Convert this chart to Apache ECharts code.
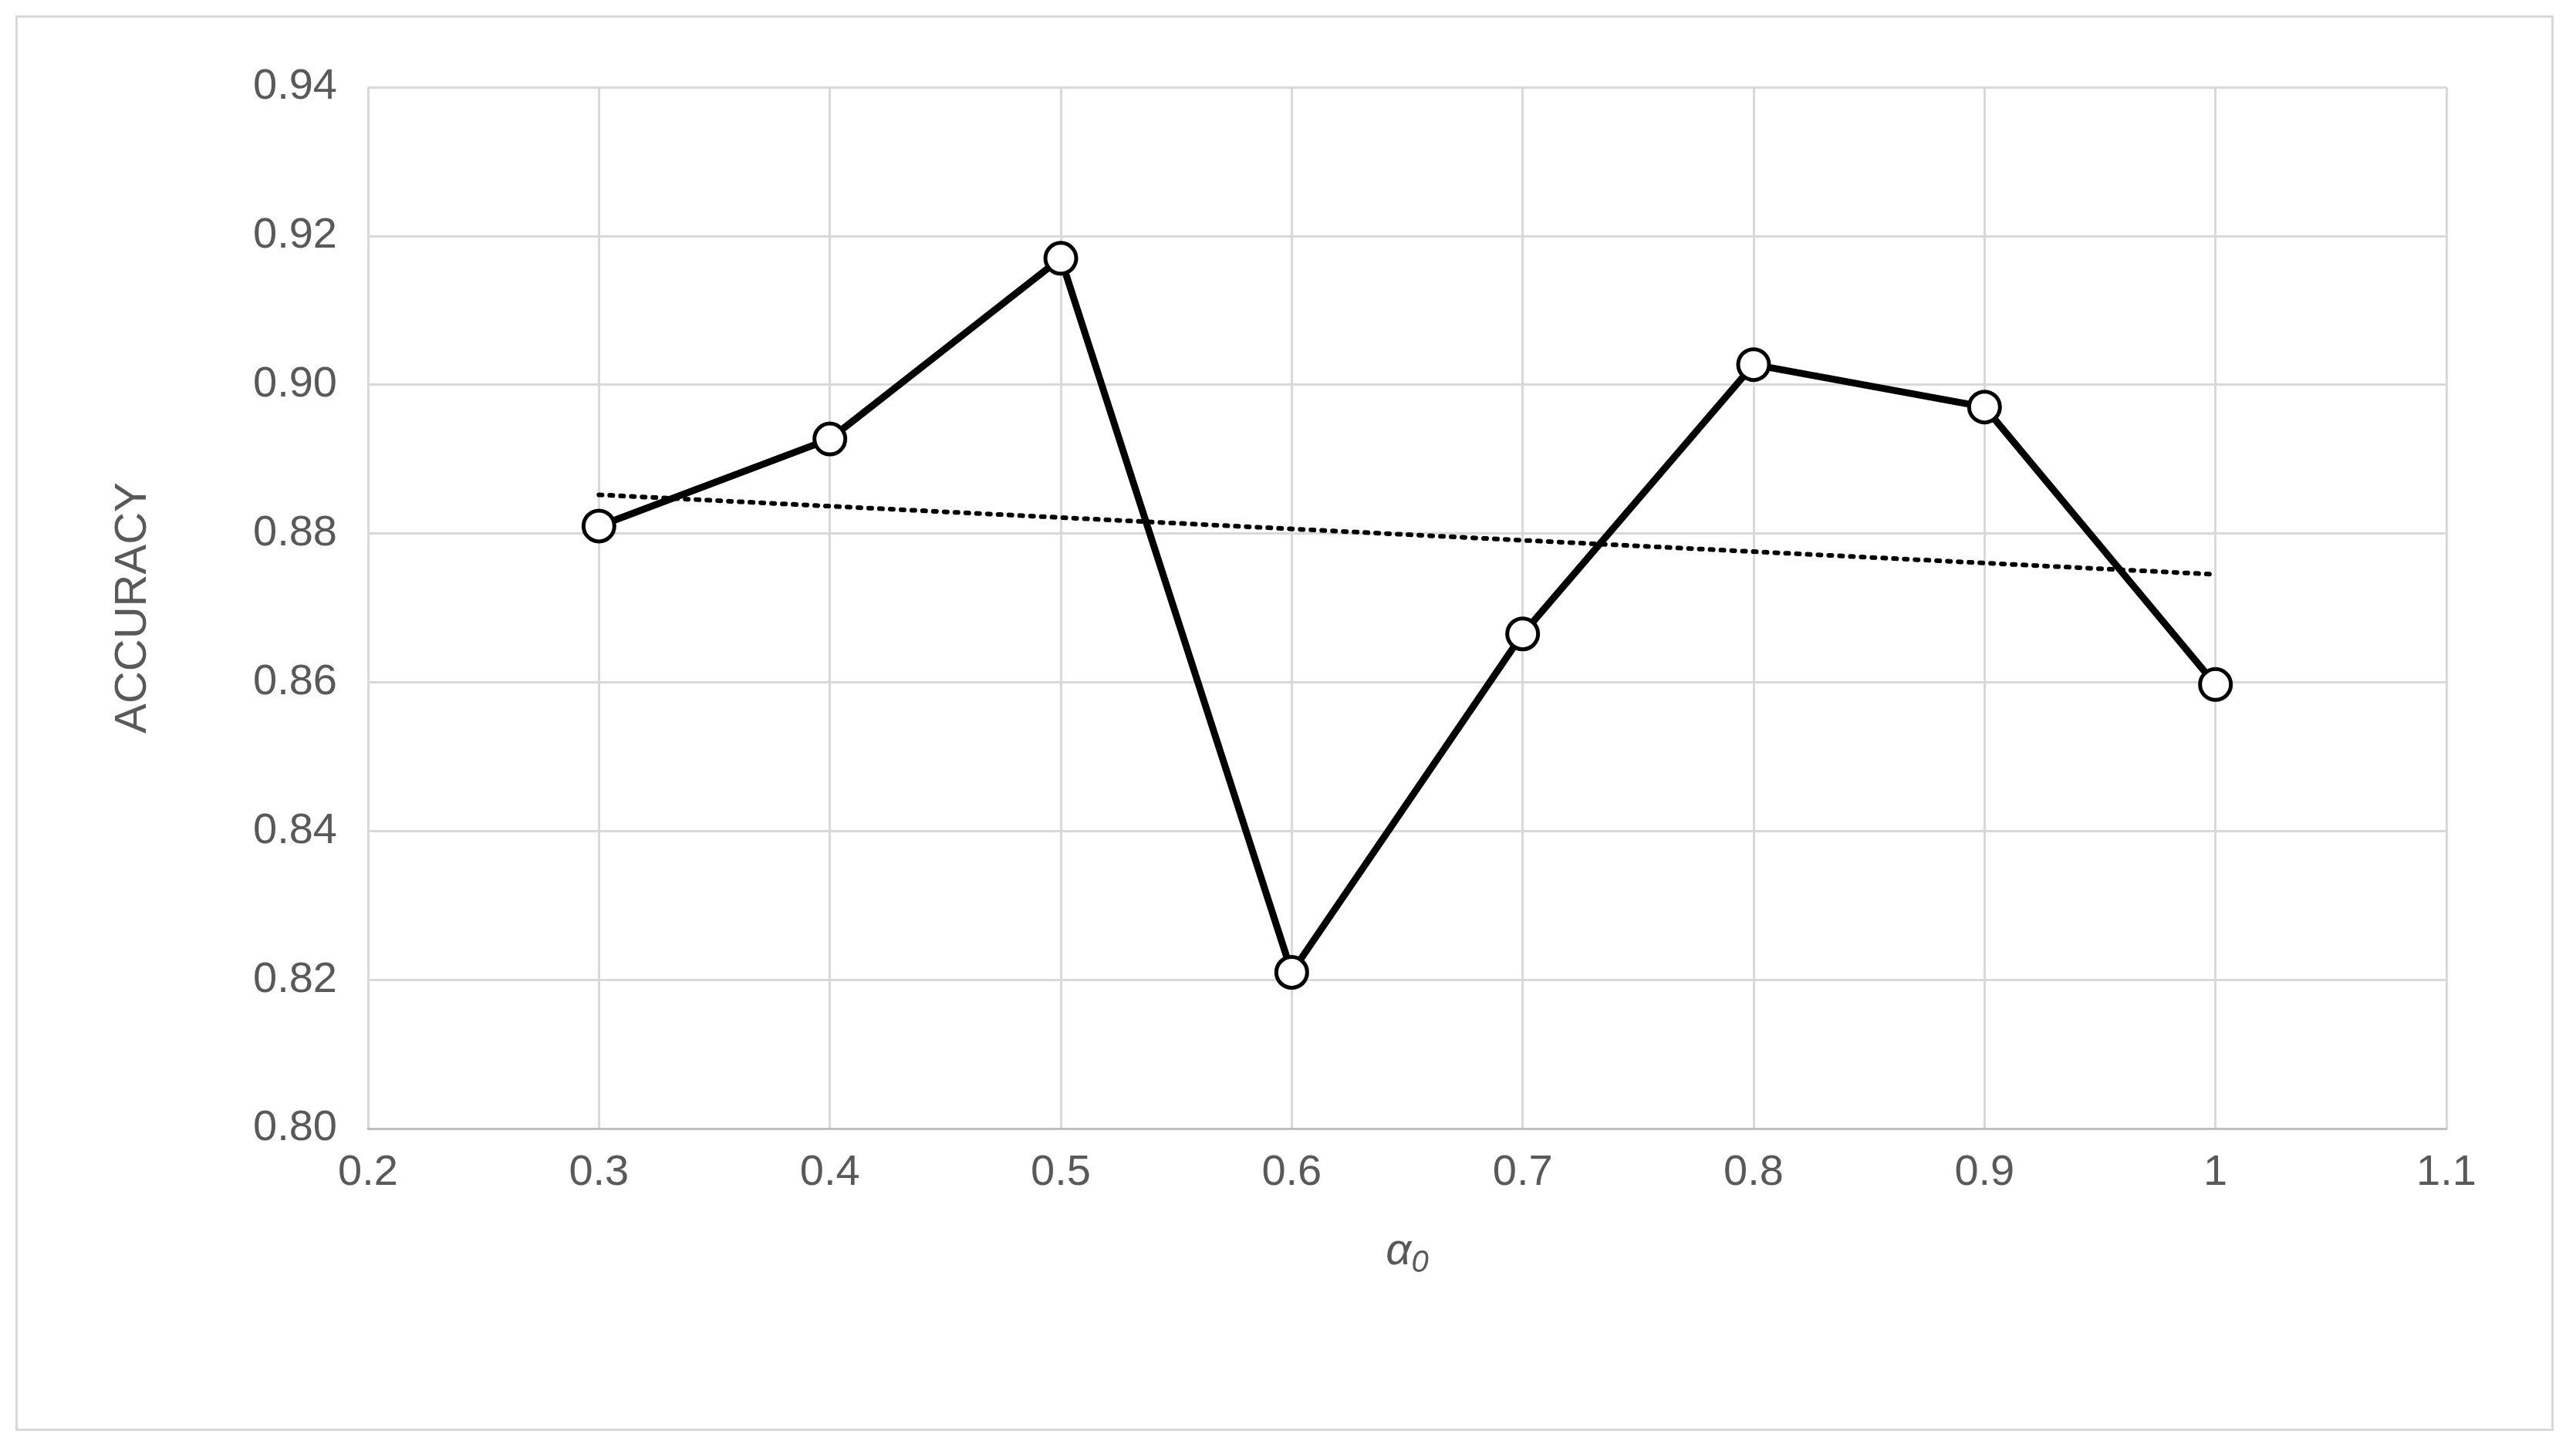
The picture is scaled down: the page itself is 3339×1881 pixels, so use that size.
<!DOCTYPE html>
<html>
<head>
<meta charset="utf-8">
<script src="https://cdn.jsdelivr.net/npm/echarts@6/dist/echarts.min.js"></script>
<style>
html,body{margin:0;padding:0;background:#fff;}
#frame{position:absolute;left:20px;top:20px;width:3290px;height:1835px;border:3px solid #d9d9d9;box-sizing:border-box;}
#chart{width:3339px;height:1881px;}
</style>
</head>
<body>
<div id="frame"></div>
<div id="chart"></div>
<script>
var alphaValues = [0.3, 0.4, 0.5, 0.6, 0.7, 0.8, 0.9, 1.0];
var accuracy = [0.881, 0.8927, 0.917, 0.821, 0.8665, 0.9027, 0.897, 0.8597];
var trendX = [0.3, 1.0];
var trendY = [0.8852, 0.8745];

var chart = echarts.init(document.getElementById('chart'));
var font = "'Liberation Sans', 'DejaVu Sans', sans-serif";
chart.setOption({
    animation: false,
    grid: { left: 477, right: 168, top: 113, bottom: 418 },
    xAxis: {
        type: 'value', min: 0.2, max: 1.1, interval: 0.1,
        name: 'α{s|0}', nameLocation: 'middle', nameGap: 125,
        nameTextStyle: {
            fontSize: 58, color: '#595959', fontStyle: 'italic', fontFamily: font,
            rich: { s: { fontSize: 40, color: '#595959', verticalAlign: 'bottom', padding: [30, 0, 0, 0] } }
        },
        axisLine: { lineStyle: { color: '#bfbfbf', width: 3 } },
        axisTick: { show: false },
        splitLine: { lineStyle: { color: '#d9d9d9', width: 3 } },
        axisLabel: {
            fontSize: 56, color: '#595959', margin: 30, fontFamily: font,
            formatter: function (v) { return String(Math.round(v * 10) / 10); }
        }
    },
    yAxis: {
        type: 'value', min: 0.8, max: 0.94, interval: 0.02,
        name: 'ACCURACY', nameLocation: 'middle', nameGap: 275,
        nameTextStyle: { fontSize: 58, color: '#595959', fontFamily: font },
        axisLine: { show: false },
        axisTick: { show: false },
        splitLine: { lineStyle: { color: '#d9d9d9', width: 3 } },
        axisLabel: {
            fontSize: 56, color: '#595959', margin: 40, fontFamily: font,
            formatter: function (v) { return v.toFixed(2); }
        }
    },
    series: [
        {
            type: 'line',
            data: trendX.map(function (x, i) { return [x, trendY[i]]; }),
            symbol: 'none',
            lineStyle: { color: '#000', width: 6, type: [4, 10], cap: 'round' },
            z: 2
        },
        {
            type: 'line',
            data: alphaValues.map(function (x, i) { return [x, accuracy[i]]; }),
            symbol: 'circle', symbolSize: 40,
            itemStyle: { color: '#fff', borderColor: '#000', borderWidth: 5 },
            lineStyle: { color: '#000', width: 9 },
            z: 3
        }
    ]
});
</script>
</body>
</html>
